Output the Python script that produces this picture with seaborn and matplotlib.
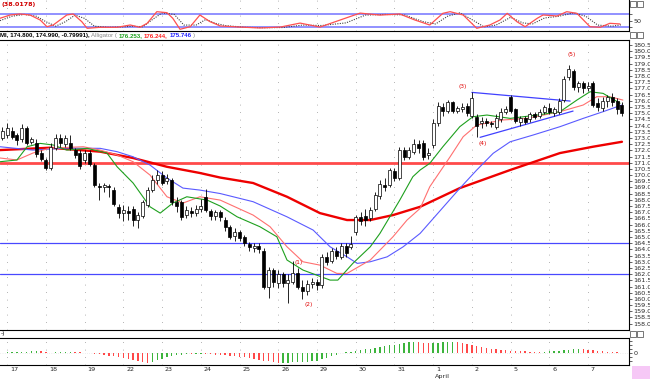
import numpy as np
import pandas as pd
import matplotlib
matplotlib.use("Agg")
import matplotlib.pyplot as plt
import seaborn as sns
from matplotlib.patches import Rectangle
from matplotlib.transforms import blended_transform_factory
from matplotlib import font_manager

# ---- candles (one per hour bar) ----
OPEN = [173.0, 173.2, 173.6, 173.2, 172.9, 173.8, 172.7, 172.6, 171.8, 171.2,
        170.6, 172.2, 173.0, 172.5, 172.6, 172.0, 171.8, 171.2, 171.8, 170.8,
        169.1, 169.0, 169.1, 168.8, 167.4, 166.9, 167.1, 167.3, 166.4, 166.7,
        167.6, 168.8, 169.6, 170.0, 169.5, 169.6, 167.8, 167.8, 166.8, 167.1,
        166.9, 167.3, 168.2, 167.1, 166.7, 167.0, 166.4, 165.8, 165.1, 165.4,
        165.0, 164.4, 164.1, 164.3, 163.9, 161.0, 162.3, 161.3, 162.0, 161.3,
        161.4, 162.1, 161.0, 160.6, 161.2, 161.4, 161.1, 163.4, 163.1, 163.9,
        163.4, 164.3, 164.2, 165.4, 166.6, 166.7, 166.5, 167.3, 168.3, 169.2,
        169.2, 170.3, 169.8, 172.0, 171.5, 171.9, 172.5, 172.6, 171.6, 172.4,
        174.2, 175.5, 175.2, 175.9, 175.2, 175.3, 175.6, 174.8, 174.7, 174.2,
        174.4, 174.2, 173.9, 174.5, 175.1, 176.3, 175.3, 174.3, 174.6, 174.5,
        174.9, 174.8, 175.1, 175.4, 175.0, 175.1, 176.1, 177.9, 178.4, 177.1,
        177.4, 177.0, 177.4, 175.8, 175.4, 176.0, 176.3, 176.0, 175.7]
HIGH = [173.9, 174.2, 173.9, 173.4, 174.1, 174.0, 173.1, 172.9, 172.0, 171.4,
        172.6, 173.3, 173.3, 173.2, 173.2, 172.2, 172.0, 172.0, 172.0, 171.0,
        169.4, 169.4, 169.3, 169.0, 167.7, 167.6, 167.5, 167.5, 167.0, 168.0,
        169.0, 170.0, 170.4, 170.3, 170.1, 169.8, 168.2, 168.0, 167.5, 167.4,
        167.6, 168.1, 168.9, 167.3, 167.2, 167.2, 166.6, 166.0, 165.7, 165.6,
        165.2, 164.6, 164.5, 164.5, 164.1, 162.6, 162.5, 162.3, 162.2, 162.0,
        163.1, 162.5, 161.5, 161.5, 161.7, 161.6, 163.6, 163.8, 164.1, 164.2,
        164.5, 164.5, 165.1, 166.8, 167.0, 167.3, 167.4, 168.6, 169.6, 169.8,
        170.6, 170.6, 172.3, 172.3, 172.3, 172.9, 172.8, 172.8, 172.2, 174.5,
        175.9, 175.8, 176.1, 176.0, 175.6, 175.8, 175.8, 176.7, 174.9, 174.7,
        174.6, 174.4, 174.9, 175.4, 175.6, 176.5, 175.4, 174.8, 174.8, 175.1,
        175.1, 175.3, 175.7, 175.8, 175.5, 176.2, 178.0, 178.9, 178.6, 177.6,
        177.6, 177.5, 177.6, 176.2, 176.3, 176.5, 176.6, 176.2, 175.9]
LOW = [172.8, 173.0, 172.9, 172.4, 172.7, 172.4, 172.5, 171.5, 171.1, 170.4,
       170.4, 172.0, 172.3, 172.3, 172.0, 171.4, 170.5, 171.0, 170.7, 169.0,
       168.0, 168.6, 168.2, 167.5, 166.5, 166.3, 166.4, 165.9, 165.7, 166.5,
       167.4, 168.6, 169.3, 169.2, 169.3, 167.6, 167.0, 166.4, 166.5, 166.6,
       166.7, 167.0, 167.0, 166.4, 166.4, 166.3, 165.5, 164.8, 164.7, 164.7,
       164.3, 163.9, 163.8, 163.7, 160.8, 160.1, 161.0, 160.9, 161.0, 159.7,
       161.2, 160.8, 160.0, 160.3, 160.9, 160.7, 160.9, 162.7, 162.9, 163.2,
       163.2, 163.4, 164.0, 165.2, 166.0, 165.9, 166.3, 167.1, 168.1, 168.7,
       169.0, 169.5, 169.6, 171.2, 171.3, 171.7, 171.8, 171.2, 171.3, 172.2,
       174.0, 174.8, 175.0, 175.0, 175.0, 175.1, 174.8, 174.6, 173.1, 173.8,
       174.0, 173.9, 173.7, 174.3, 174.9, 175.0, 174.2, 174.0, 174.1, 174.3,
       174.5, 174.6, 174.9, 174.9, 174.8, 174.9, 175.9, 177.7, 176.9, 176.7,
       176.6, 176.8, 175.5, 175.2, 175.2, 175.5, 175.6, 174.9, 174.8]
CLOSE = [173.6, 173.8, 173.1, 172.8, 173.8, 172.6, 172.9, 171.7, 171.3, 170.6,
         172.3, 173.0, 172.6, 173.0, 172.2, 171.6, 170.7, 171.8, 170.9, 169.2,
         169.0, 169.2, 169.0, 167.7, 166.9, 167.2, 166.9, 166.4, 166.8, 167.8,
         168.8, 169.6, 170.0, 169.4, 169.8, 167.8, 167.5, 166.6, 167.2, 166.9,
         167.3, 167.5, 167.2, 166.7, 167.0, 166.6, 165.8, 165.0, 165.4, 164.9,
         164.5, 164.2, 164.3, 164.0, 161.0, 162.3, 161.4, 162.0, 161.3, 161.5,
         162.1, 161.0, 160.6, 161.2, 161.4, 161.1, 163.4, 163.0, 163.9, 163.5,
         164.3, 163.7, 164.4, 166.6, 166.3, 166.4, 167.2, 168.4, 169.3, 169.0,
         170.4, 169.8, 172.0, 171.5, 172.0, 172.5, 172.2, 171.5, 171.8, 174.2,
         175.6, 175.2, 175.9, 175.2, 175.4, 175.5, 175.0, 176.2, 174.0, 174.4,
         174.2, 174.1, 174.6, 175.1, 175.3, 175.2, 174.4, 174.6, 174.3, 174.9,
         174.7, 175.1, 175.5, 175.1, 175.3, 176.0, 177.8, 178.6, 177.1, 177.4,
         177.0, 177.2, 175.7, 175.5, 176.0, 176.3, 175.9, 175.3, 175.0]

# ---- moving averages read at sample bars ----
MA_X = [-0.5, 9.8, 20.2, 27, 34, 40.8, 45, 51.8, 58.8, 65.6, 71.2, 76, 80.7,
        86.3, 94.5, 104.9, 115.2, 122, 128]
MA_Y = [172.02, 172.21, 171.89, 171.38, 170.67, 170.17, 169.80, 169.36, 168.25,
        166.93, 166.37, 166.37, 166.77, 167.44, 168.95, 170.41, 171.78, 172.29, 172.69]

JAW_X = [-0.5, 6.3, 13.3, 20.2, 23.7, 27, 30.5, 34, 37.3, 40.8, 45, 51.8, 58.8,
         64.2, 67.7, 71.2, 73.3, 76, 79.5, 82.8, 86.3, 94.5, 98, 101.4, 104.9,
         109.6, 115.2, 120, 124.1, 128]
JAW_Y = [172.29, 172.02, 172.18, 172.16, 171.89, 171.48, 170.81, 169.76, 168.95,
         168.79, 168.51, 167.85, 166.63, 165.56, 164.21, 163.40, 162.87, 163.00,
         163.40, 164.21, 165.29, 168.93, 170.41, 171.76, 172.69, 173.23, 173.91,
         174.58, 175.12, 175.66]

TEETH_X = [-0.5, 3, 6.3, 9.8, 16.7, 20.2, 23.7, 27, 30.5, 34, 37.3, 40.8, 45,
           51.8, 55.3, 58.8, 62.1, 65.6, 69.1, 71.2, 76, 80.7, 83.6, 86.3, 88.3,
           92.5, 95.2, 98, 103.4, 108.4, 115.2, 120, 122.8, 125.5, 128.2]
TEETH_Y = [171.38, 171.22, 171.78, 172.18, 172.29, 172.02, 171.62, 171.08, 170.00,
           168.25, 167.74, 168.25, 167.98, 166.77, 165.83, 164.21, 163.00, 162.73,
           162.06, 162.06, 163.14, 165.02, 166.37, 167.31, 169.06, 171.48, 173.10,
           174.04, 174.45, 174.58, 175.12, 175.66, 176.33, 176.33, 176.06]

LIPS_X = [-0.5, 3, 5.1, 7.8, 10.5, 13.3, 17.5, 21.6, 23.7, 27, 30.5, 32.6, 35.2,
          38.1, 42.3, 45, 48.5, 53.2, 56.7, 58.8, 62.1, 67.7, 69.3, 72.4, 76, 78,
          82.1, 84.8, 86.3, 88.3, 91, 94.5, 97.2, 100.1, 104.9, 110.5, 115.2,
          118.7, 121.4, 124.1, 127.6]
LIPS_Y = [171.08, 171.22, 172.29, 172.56, 172.43, 172.02, 172.16, 171.78, 170.67,
          169.36, 167.44, 166.93, 167.74, 168.25, 167.98, 167.50, 166.63, 165.83,
          165.02, 163.14, 162.33, 161.52, 161.52, 162.87, 164.21, 165.29, 167.98,
          169.87, 170.41, 170.95, 172.29, 173.91, 174.71, 174.85, 174.58, 174.85,
          175.12, 176.06, 176.73, 176.60, 175.80]

# ---- horizontal levels, trendlines, wave labels ----
RED_LEVEL = 171.0
BLUE_LEVELS = [164.5, 162.0]
TREND_UP_X, TREND_UP_Y = [97.0, 117.3], [176.68, 175.98]
TREND_LO_X, TREND_LO_Y = [98.7, 117.9], [173.05, 175.17]
WAVE_TXT = ["(1)", "(2)", "(3)", "(4)", "(5)"]
WAVE_X = [61.1, 63.3, 95.0, 99.3, 117.7]
WAVE_Y = [162.98, 159.58, 177.19, 172.59, 179.70]

# ---- stochastic oscillator (top) ----
OSC_X = [-0.5, 1.6, 3.6, 5.7, 7.8, 9.2, 10.5, 13.3, 14.6, 16.4, 17.5, 20.2, 23.7,
         26.4, 28.4, 29.9, 31.9, 34, 35.2, 36.7, 38.8, 40.8, 42.9, 45, 49.1, 53.2,
         57.4, 61.5, 65.6, 69.8, 73.9, 78, 82.1, 85.2, 88.3, 91, 92.5, 95.2, 98,
         100.7, 102.8, 104.3, 106.3, 108, 110.5, 111.7, 114.6, 116.6, 118.7,
         121.4, 123.5, 125.5, 127.6]
OSC_K = [60.6, 75.5, 80, 75.5, 52.9, 22.7, 30.4, 75.5, 80, 45.3, 15.5, 20, 20,
         30.4, 20, 38, 90.4, 85.9, 60.6, 11, 22.7, 75.5, 45.3, 25.9, 21, 17, 21,
         39, 21, 53, 84, 75, 80, 53, 30.4, 83, 90.4, 75.5, 15.5, 30.4, 53, 83,
         45.3, 22.7, 60.6, 75.5, 71, 90.4, 83, 22.7, 20, 38, 35]
SIG_X = [-0.5, 2, 4.5, 7, 9, 11, 13, 15, 17, 19, 22, 25, 27, 29, 31, 33, 35.5,
         37.5, 40, 42, 44, 46, 50, 54, 58, 62, 66, 71, 75, 79, 83, 87, 89.5, 92,
         94.5, 97, 99.5, 102, 105, 107.5, 109.5, 112, 115, 118, 120.5, 123, 126, 128]
SIG_D = [50, 70, 78, 70, 45, 25, 45, 75, 60, 25, 20, 22, 25, 22, 55, 85, 78, 30,
         30, 55, 38, 28, 20, 18, 19, 30, 28, 40, 75, 78, 76, 45, 35, 70, 85, 55,
         22, 30, 65, 40, 35, 62, 70, 85, 70, 30, 25, 32]

# ---- awesome-style histogram (bottom) ----
HIST = [0.1, 0.15, 0.2, 0.25, 0.3, 0.35, 0.4, 0.45, 0.4, 0.35,
        0.1, 0.15, 0.2, 0.25, 0.3, 0.25, 0.2, 0.1, 0.0, -0.2,
        -0.35, -0.5, -0.65, -0.8, -1.0, -1.2, -1.45, -1.7, -1.95, -2.2,
        -2.45, -2.2, -1.8, -1.4, -1.0, -0.7, -0.5, -0.4, -0.3, -0.35,
        -0.3, -0.25, -0.3, -0.35, -0.4, -0.5, -0.6, -0.7, -0.8, -0.95,
        -1.1, -1.3, -1.5, -1.7, -1.9, -2.1, -2.3, -2.5, -2.45, -2.4,
        -2.35, -2.3, -2.25, -2.2, -2.1, -1.9, -1.6, -1.2, -0.8, -0.4,
        0.0, 0.2, 0.35, 0.5, 0.7, 0.9, 1.1, 1.3, 1.5, 1.7,
        1.9, 2.1, 2.3, 2.5, 2.7, 2.85, 2.7, 2.6, 2.4, 2.5,
        2.6, 2.7, 2.8, 2.85, 2.7, 2.5, 2.3, 2.05, 1.8, 1.55,
        1.3, 1.1, 0.9, 0.8, 0.7, 0.6, 0.5, 0.45, 0.4, 0.35,
        0.3, 0.25, 0.3, 0.4, 0.5, 0.6, 0.7, 0.8, 0.9, 0.95,
        0.9, 0.8, 0.7, 0.55, 0.45, 0.35, 0.25, 0.15, 0.1]

DAYS = ["17", "18", "19", "22", "23", "24", "25", "26", "29", "30", "31",
        "1", "2", "5", "6", "7"]
BARS_PER_DAY = 8

W, H = 650, 379


def box(l, t, r, b):
    return [l / W, 1 - b / H, (r - l) / W, (b - t) / H]


sns.set_style("white")
plt.rcParams['font.family'] = ['DejaVu Sans']

# a narrow face for the pane header, if one is installed
installed = {f.name for f in font_manager.fontManager.ttflist}
HDR_FONT = ['Liberation Sans Narrow'] if 'Liberation Sans Narrow' in installed \
    else ['Liberation Sans', 'DejaVu Sans']

df = pd.DataFrame({"open": OPEN, "high": HIGH, "low": LOW, "close": CLOSE})
df["x"] = np.arange(len(df))
day_x = [1 + BARS_PER_DAY * d for d in range(len(DAYS))]
XLIM = (-0.5, 129.46)

fig = plt.figure(figsize=(6.5, 3.79), dpi=100)
ax_osc = fig.add_axes(box(0, 0, 629, 31))
ax = fig.add_axes(box(0, 40, 629, 330))
ax_h = fig.add_axes(box(0, 338, 629, 365))

for a in (ax_osc, ax, ax_h):
    a.set_xlim(*XLIM)
    for s in a.spines.values():
        s.set_linewidth(0.8)
        s.set_color("black")
    a.spines["left"].set_visible(False)
    for dx in day_x:
        a.axvline(dx, color="#9a9a9a", lw=0.6, ls=(0, (1, 8)), zorder=0)
    a.yaxis.tick_right()
    a.tick_params(axis="y", labelsize=4.6, length=2, width=0.5, pad=1,
                  direction="out")

# ---- top oscillator ----
ax_osc.set_ylim(3.3, 143.1)
for lvl in (80, 20):
    ax_osc.axhline(lvl, color="#9090ff", lw=1.4, zorder=1)
sns.lineplot(x=SIG_X, y=SIG_D, ax=ax_osc, color="#404040", lw=0.8,
             linestyle=(0, (1, 1.2)))
sns.lineplot(x=OSC_X, y=OSC_K, ax=ax_osc, color="#ff5050", lw=0.9)
ax_osc.set_yticks([20, 50, 80])
ax_osc.set_yticklabels(["", "50", ""])
ax_osc.set_xticks([])
ax_osc.spines["top"].set_visible(False)
ax_osc.text(0.003, 0.93, "(38.0178)", transform=ax_osc.transAxes, color="#d00000",
            fontsize=4.6, fontweight="bold", va="top", ha="left")

# ---- main candles ----
ax.set_ylim(157.49, 180.91)
ax.axhline(RED_LEVEL, color="#ff4a4a", lw=2.0, zorder=1)
for lvl in BLUE_LEVELS:
    ax.axhline(lvl, color="#4848ff", lw=0.9, zorder=1)

sns.lineplot(x=MA_X, y=MA_Y, ax=ax, color="#ee0000", lw=1.7, zorder=2)
sns.lineplot(x=JAW_X, y=JAW_Y, ax=ax, color="#5a5aff", lw=0.8, zorder=2)
sns.lineplot(x=TEETH_X, y=TEETH_Y, ax=ax, color="#ff7070", lw=0.8, zorder=2)
sns.lineplot(x=LIPS_X, y=LIPS_Y, ax=ax, color="#1ea01e", lw=0.8, zorder=2)
sns.lineplot(x=TREND_UP_X, y=TREND_UP_Y, ax=ax, color="#4040ff", lw=0.9, zorder=2)
sns.lineplot(x=TREND_LO_X, y=TREND_LO_Y, ax=ax, color="#4040ff", lw=0.9, zorder=2)

up = df["close"] >= df["open"]
ax.vlines(df["x"], df["low"], df["high"], color="black", lw=0.6, zorder=3)
body_lo = np.minimum(df["open"], df["close"])
body_h = np.maximum(np.abs(df["close"] - df["open"]), 0.04)
ax.bar(df["x"], body_h, bottom=body_lo, width=0.62,
       color=np.where(up, "white", "black"), edgecolor="black", lw=0.5, zorder=4)

for t, wx, wy in zip(WAVE_TXT, WAVE_X, WAVE_Y):
    ax.text(wx, wy, t, color="#e00000", fontsize=4.2, ha="center", va="center",
            zorder=5)

ax.set_yticks(np.arange(158.0, 180.51, 0.5))
ax.set_yticklabels([f"{v:.1f}" for v in np.arange(158.0, 180.51, 0.5)])
ax.set_xticks([])

# header of price pane: pieces laid side by side
hdr = [("Ml, 174.800, 174.990, -0.79991),", "black", "bold"),
       ("Alligator (", "#8a8a8a", "normal"),
       ("176.253,", "#1ea01e", "bold"),
       ("176.244,", "#ff2020", "bold"),
       ("175.746", "#2020ff", "bold"),
       (")", "#8a8a8a", "normal")]
renderer = fig.canvas.get_renderer()
px = 0.0
for txt, col, fw in hdr:
    t = fig.text(px / W, 1 - 35.5 / H, txt, color=col, fontsize=4.4, fontweight=fw,
                 family=HDR_FONT, va="center", ha="left")
    px += t.get_window_extent(renderer).width + 1.5

# ---- histogram ----
ax_h.set_ylim(-3.0, 3.75)
hist = np.array(HIST)
prev = np.r_[hist[0], hist[:-1]]
cols = np.where(hist >= prev, "#3cb43c", "#ff4848")
ax_h.bar(df["x"], hist, width=0.28, color=cols, lw=0, zorder=3)
ax_h.axhline(0, color="#cccccc", lw=0.4, ls=(0, (1, 3)), zorder=1)
ax_h.set_yticks([-2, -1, 0, 1, 2, 3])
ax_h.set_yticklabels(["", "", "0", "", "", ""])
ax_h.set_xticks(day_x)
ax_h.set_xticklabels([])
ax_h.set_xticks(np.arange(0, 129), minor=True)
ax_h.tick_params(axis="x", which="major", length=5, width=0.6, direction="out")
ax_h.tick_params(axis="x", which="minor", length=2, width=0.4, direction="out")
tr = blended_transform_factory(ax_h.transData, ax_h.transAxes)
for dx, lab in zip(day_x, DAYS):
    ax_h.text(dx + 0.6, -0.17, lab, transform=tr, fontsize=4.6, ha="left",
              va="center")
ax_h.text(day_x[11] + 0.4, -0.42, "April", transform=tr, fontsize=4.6,
          ha="left", va="center")
fig.text(0.5 / W, 1 - 333.5 / H, "-)", fontsize=4.2, color="black",
         va="center", ha="left")
fig.add_artist(Rectangle((0, 1 - 331 / H), 629 / W, 0.8 / H,
                         transform=fig.transFigure, color="black", lw=0))

# pane buttons and corner swatch
for ty in (4, 35, 334):
    for bx in (630, 637):
        fig.add_artist(Rectangle((bx / W, 1 - (ty + 3) / H), 6 / W, 6 / H,
                                 transform=fig.transFigure, fill=False,
                                 edgecolor="#404040", lw=0.5))
fig.add_artist(Rectangle((632 / W, 0), 18 / W, 13 / H,
                         transform=fig.transFigure, color="#f6c8f6", lw=0))

fig.savefig("out.png", dpi=100)
